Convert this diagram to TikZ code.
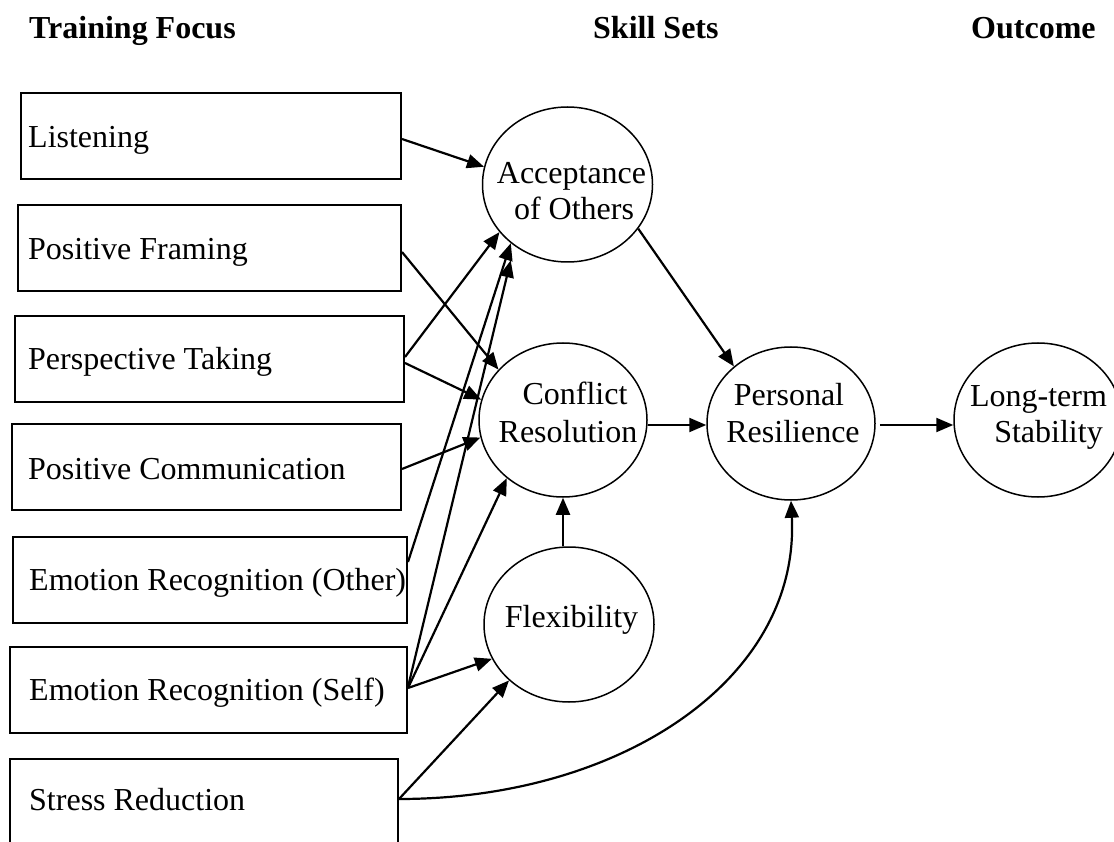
\documentclass[tikz,border=0pt]{standalone}
\usepackage{fontspec}
\setmainfont{Liberation Serif}
\usetikzlibrary{arrows.meta,calc,shapes.geometric}
\begin{document}
\begin{tikzpicture}[x=1pt,y=-1pt,
  every node/.style={font=\fontsize{32}{36}\selectfont},
  box/.style={draw, line width=2pt, inner sep=0pt, minimum height=86pt},
  ell/.style={draw, ellipse, line width=1.5pt, inner sep=0pt},
  txt/.style={inner sep=0pt, anchor=base},
  lbl/.style={inner sep=0pt, anchor=base west},
  head/.style={inner sep=0pt, anchor=base west, font=\fontsize{32}{36}\selectfont\bfseries},
  arr/.style={line width=2.2pt, -{Triangle[length=17pt,width=14pt]}},
]
\useasboundingbox (0,0) rectangle (1114,842);
\clip (0,0) rectangle (1114,842);
\fill[white] (0,0) rectangle (1114,842);

% headers
\node[head] (h1) at (29,39) {Training Focus};
\node[head] (h2) at (593,39) {Skill Sets};
\node[head] (h3) at (971,39) {Outcome};

% boxes
\node[box, minimum width=380pt] (L)   at (211,136)   {};
\node[box, minimum width=383pt] (PF)  at (209.5,248) {};
\node[box, minimum width=389pt] (PT)  at (209.5,359) {};
\node[box, minimum width=389pt] (PC)  at (206.5,467) {};
\node[box, minimum width=394pt] (ERO) at (210,580)   {};
\node[box, minimum width=397pt] (ERS) at (208.5,690) {};
\node[box, minimum width=388pt] (SR)  at (204,802)   {};

\node[lbl] (Lt)   at (28,148) {Listening};
\node[lbl] (PFt)  at (28,260) {Positive Framing};
\node[lbl] (PTt)  at (28,370) {Perspective Taking};
\node[lbl] (PCt)  at (28,479) {Positive Communication};
\node[lbl] (EROt) at (29,590) {Emotion Recognition (Other)};
\node[lbl] (ERSt) at (29,700) {Emotion Recognition (Self)};
\node[lbl] (SRt)  at (29,810) {Stress Reduction};

% ellipses
\node[ell, minimum width=170pt, minimum height=155pt] (acc)  at (567.5,184.5) {};
\node[ell, minimum width=168pt, minimum height=154pt] (con)  at (563,420) {};
\node[ell, minimum width=170pt, minimum height=155pt] (flex) at (569,624.5) {};
\node[ell, minimum width=168pt, minimum height=153pt] (per)  at (791,423.5) {};
\node[ell, minimum width=168pt, minimum height=154pt] (lts)  at (1038,420) {};

\node[txt] (acc1) at (571.5,184) {Acceptance};
\node[txt] (acc2) at (574,220) {of Others};
\node[txt] (con1) at (575,404) {Conflict};
\node[txt] (con2) at (568,442) {Resolution};
\node[txt] (flx1) at (571.5,627) {Flexibility};
\node[txt] (per1) at (789,405) {Personal};
\node[txt] (per2) at (793,442) {Resilience};
\node[txt] (lts1) at (1038.5,406) {Long-term};
\node[txt] (lts2) at (1048.5,442) {Stability};

% connectors
\draw[arr] ([yshift=-3pt]L.east) -- (acc.168.7);
\draw[arr] ([yshift=-4pt]PF.east) -- (con.142.4);
\draw[arr] ([yshift=2pt]PT.east) -- (acc.215.6);
\draw[arr] ([yshift=-4pt]PT.east) -- (con.166.5);
\draw[arr] ([yshift=-2pt]PC.east) -- (con.192);
\draw[arr] ([yshift=18pt]ERO.east) -- (acc.226.5);
\draw[arr, shorten >=15pt] ([yshift=3pt]ERS.east) -- (acc.229);
\draw[arr] ([yshift=2pt]ERS.east) -- (con.226);
\draw[arr] ([yshift=2pt]ERS.east) -- (flex.204.3);
\draw[arr] ([yshift=3pt]SR.east) -- (flex.223.4);
\draw[arr] ([yshift=3pt]SR.east) .. controls (620,799) and (800,680) .. (per.south);
\draw[arr] (acc.328) -- (per.135.8);
\draw[arr] ([yshift=-5pt]con.east) -- ([yshift=-1.5pt]per.west);
\draw[arr] ([xshift=4pt,yshift=-1.5pt]per.east) -- ([yshift=-5pt]lts.west);
\draw[arr] (con.south |- flex.north) -- (con.south);
\end{tikzpicture}
\end{document}
